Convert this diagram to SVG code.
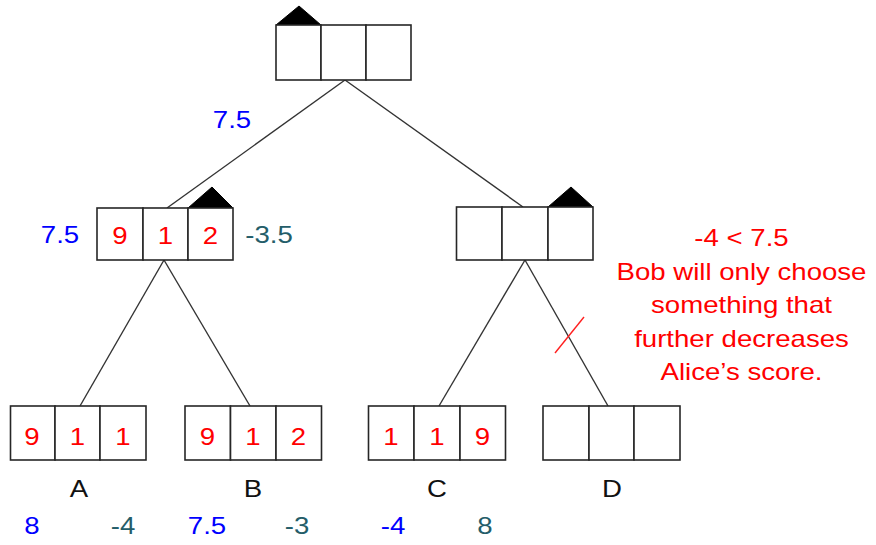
<svg xmlns="http://www.w3.org/2000/svg" width="876" height="545" viewBox="0 0 876 545">
  <style>
    .cell { fill: #ffffff; stroke: #262626; stroke-width: 1.6; }
    .turn { fill: #000000; stroke: #000000; stroke-width: 1; stroke-linejoin: round; }
    .edge { stroke: #333333; stroke-width: 1.4; fill: none; }
    .cut { stroke: #ff2020; stroke-width: 1.4; }
    text { font-family: "Liberation Sans", Arial, sans-serif; font-size: 23px; text-anchor: middle; }
    .val { fill: #ff0000; }
    .alice { fill: #0000ff; }
    .bob { fill: #245d69; }
    .name { fill: #111111; }
    .note { fill: #ff0000; }
  </style>

  <!-- connectors -->
  <g id="edges">
    <line class="edge" x1="345" y1="80" x2="167" y2="208"/>
    <line class="edge" x1="345" y1="80" x2="523" y2="207"/>
    <line class="edge" x1="164" y1="260" x2="80" y2="406"/>
    <line class="edge" x1="164" y1="260" x2="250" y2="406"/>
    <line class="edge" x1="525" y1="260" x2="439" y2="406"/>
    <line class="edge" x1="525" y1="260" x2="608" y2="406"/>
    <line class="cut" x1="555" y1="353" x2="584" y2="317"/>
  </g>

  <!-- root -->
  <g id="root">
    <polygon class="turn" points="276,25 299,6 321,25"/>
    <rect class="cell" x="276" y="25" width="45" height="55"/>
    <rect class="cell" x="321" y="25" width="45" height="55"/>
    <rect class="cell" x="366" y="25" width="45" height="55"/>
    <text class="alice" transform="translate(232,128) scale(1.2,1)">7.5</text>
  </g>

  <!-- left middle -->
  <g id="mid-left">
    <polygon class="turn" points="188,208 212,187 233,208"/>
    <rect class="cell" x="97" y="208" width="46" height="52"/>
    <rect class="cell" x="143" y="208" width="45" height="52"/>
    <rect class="cell" x="188" y="208" width="45" height="52"/>
    <text class="val" transform="translate(120,244) scale(1.2,1)">9</text>
    <text class="val" transform="translate(165.5,244) scale(1.2,1)">1</text>
    <text class="val" transform="translate(210.5,244) scale(1.2,1)">2</text>
    <text class="alice" transform="translate(60,243) scale(1.2,1)">7.5</text>
    <text class="bob" transform="translate(269,243) scale(1.2,1)">-3.5</text>
  </g>

  <!-- right middle -->
  <g id="mid-right">
    <polygon class="turn" points="548,207 571,187 593,207"/>
    <rect class="cell" x="456.5" y="207" width="45.5" height="53"/>
    <rect class="cell" x="502" y="207" width="46" height="53"/>
    <rect class="cell" x="548" y="207" width="45" height="53"/>
  </g>

  <!-- leaf A -->
  <g id="leaf-a">
    <rect class="cell" x="10.5" y="406" width="44.5" height="54"/>
    <rect class="cell" x="55" y="406" width="45" height="54"/>
    <rect class="cell" x="100" y="406" width="46" height="54"/>
    <text class="val" transform="translate(32,445) scale(1.2,1)">9</text>
    <text class="val" transform="translate(77.5,445) scale(1.2,1)">1</text>
    <text class="val" transform="translate(123,445) scale(1.2,1)">1</text>
    <text class="name" transform="translate(79,497) scale(1.2,1)">A</text>
    <text class="alice" transform="translate(32,534) scale(1.2,1)">8</text>
    <text class="bob" transform="translate(123,534) scale(1.2,1)">-4</text>
  </g>

  <!-- leaf B -->
  <g id="leaf-b">
    <rect class="cell" x="185" y="406" width="45.5" height="54"/>
    <rect class="cell" x="230.5" y="406" width="45.5" height="54"/>
    <rect class="cell" x="276" y="406" width="45.5" height="54"/>
    <text class="val" transform="translate(207.5,445) scale(1.2,1)">9</text>
    <text class="val" transform="translate(253,445) scale(1.2,1)">1</text>
    <text class="val" transform="translate(298.5,445) scale(1.2,1)">2</text>
    <text class="name" transform="translate(253,497) scale(1.2,1)">B</text>
    <text class="alice" transform="translate(207,534) scale(1.2,1)">7.5</text>
    <text class="bob" transform="translate(297,534) scale(1.2,1)">-3</text>
  </g>

  <!-- leaf C -->
  <g id="leaf-c">
    <rect class="cell" x="368.5" y="406" width="45.5" height="54"/>
    <rect class="cell" x="414" y="406" width="46" height="54"/>
    <rect class="cell" x="460" y="406" width="45.5" height="54"/>
    <text class="val" transform="translate(391,445) scale(1.2,1)">1</text>
    <text class="val" transform="translate(437,445) scale(1.2,1)">1</text>
    <text class="val" transform="translate(482.5,445) scale(1.2,1)">9</text>
    <text class="name" transform="translate(437,497) scale(1.2,1)">C</text>
    <text class="alice" transform="translate(393,534) scale(1.2,1)">-4</text>
    <text class="bob" transform="translate(485,534) scale(1.2,1)">8</text>
  </g>

  <!-- leaf D -->
  <g id="leaf-d">
    <rect class="cell" x="543" y="406" width="46" height="54"/>
    <rect class="cell" x="589" y="406" width="45" height="54"/>
    <rect class="cell" x="634" y="406" width="46" height="54"/>
    <text class="name" transform="translate(612,497) scale(1.2,1)">D</text>
  </g>

  <!-- pruning note -->
  <g id="note">
    <text class="note" transform="translate(741.5,246) scale(1.2,1)">-4 &lt; 7.5</text>
    <text class="note" transform="translate(741.5,279.5) scale(1.2,1)">Bob will only choose</text>
    <text class="note" transform="translate(741.5,313) scale(1.2,1)">something that</text>
    <text class="note" transform="translate(741.5,346.5) scale(1.2,1)">further decreases</text>
    <text class="note" transform="translate(741.5,380) scale(1.2,1)">Alice’s score.</text>
  </g>
</svg>
